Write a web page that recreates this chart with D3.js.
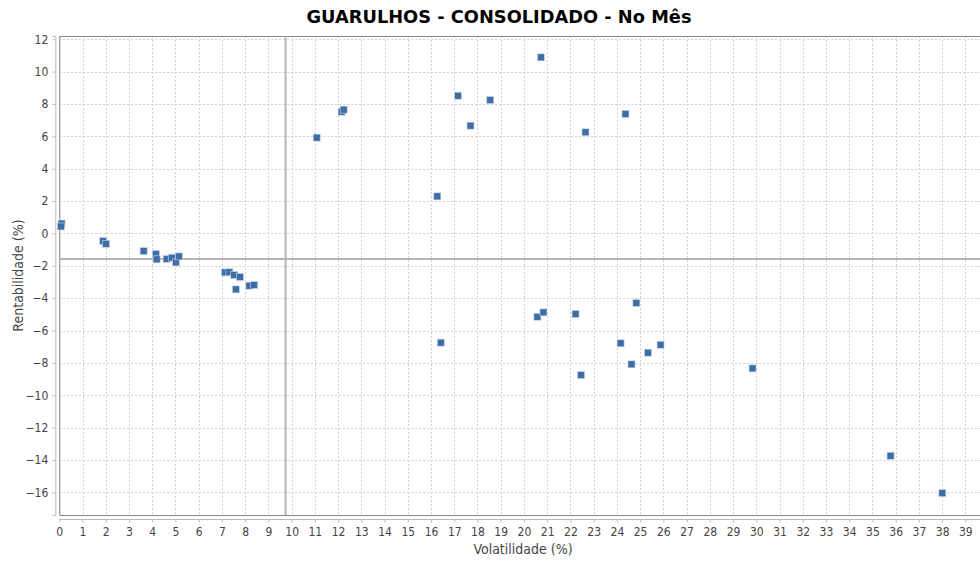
<!DOCTYPE html>
<html>
<head>
<meta charset="utf-8">
<script src="https://cdn.jsdelivr.net/npm/d3@7"></script>
<style>
  body { margin: 0; background: #fff; }
  svg { display: block; }
  text { font-family: "DejaVu Sans Condensed", "DejaVu Sans", sans-serif; }
</style>
</head>
<body>
<svg id="chart" width="980" height="563"></svg>
<script>
// volatilidade (%) / rentabilidade (%) de cada fundo
var volatilidade = [0.10, 0.07, 1.89, 2.01, 3.63, 4.16, 4.19, 4.62, 4.84, 5.02, 5.15,
    7.13, 7.32, 7.53, 7.78, 7.60, 8.18, 8.39,
    11.08, 12.15, 12.24, 17.16, 17.70, 18.55, 20.73, 22.65, 24.37, 16.27,
    16.42, 20.58, 20.84, 22.22, 22.46, 24.16, 24.84, 24.63, 25.34, 25.88,
    29.84, 35.78, 38.01];
var rentabilidade = [0.61, 0.43, -0.47, -0.64, -1.09, -1.27, -1.60, -1.58, -1.50, -1.79, -1.42,
    -2.41, -2.40, -2.57, -2.69, -3.46, -3.23, -3.19,
    5.92, 7.52, 7.65, 8.51, 6.66, 8.24, 10.88, 6.25, 7.38, 2.29,
    -6.75, -5.15, -4.88, -4.98, -8.75, -6.79, -4.30, -8.09, -7.37, -6.88,
    -8.34, -13.74, -16.05];

// linhas de referencia (media)
var mediaVol = 9.74;
var mediaRent = -1.58;

var xTicks = d3.range(0, 40, 1);
var yTicks = d3.range(-16, 13, 2);

var svg = d3.select("#chart");
var pLeft = 59.3, pRight = 980, pTop = 36, pBottom = 515;

var x = d3.scaleLinear().domain([0, 39.63]).range([pLeft, pRight]);
var y = d3.scaleLinear().domain([-17.4, 12.2]).range([pBottom, pTop]);

svg.append("text")
    .attr("x", 499).attr("y", 23)
    .attr("text-anchor", "middle")
    .style("font-family", "'DejaVu Sans', sans-serif")
    .style("font-weight", "bold")
    .style("font-size", "17.8px")
    .text("GUARULHOS - CONSOLIDADO - No Mês");

// grade
var grid = svg.append("g")
    .attr("stroke", "#d0d0d0")
    .attr("stroke-dasharray", "2,2");
grid.selectAll("line.v").data(xTicks).enter().append("line")
    .attr("x1", d => Math.round(x(d)) + 0.5).attr("x2", d => Math.round(x(d)) + 0.5)
    .attr("y1", pTop).attr("y2", pBottom);
grid.selectAll("line.h").data(yTicks).enter().append("line")
    .attr("y1", d => Math.round(y(d)) + 0.5).attr("y2", d => Math.round(y(d)) + 0.5)
    .attr("x1", pLeft).attr("x2", pRight);

// borda da area do grafico
svg.append("path")
    .attr("d", "M" + pRight + "," + (pTop + 0.5) + "H" + (pLeft + 0.5) + "V" + (pBottom + 0.5) + "H" + pRight)
    .attr("fill", "none")
    .attr("stroke", "#888");

// linhas das medias
svg.append("line")
    .attr("x1", x(mediaVol)).attr("x2", x(mediaVol))
    .attr("y1", pTop).attr("y2", pBottom)
    .attr("stroke", "#b4b4b4").attr("stroke-width", 2);
svg.append("line")
    .attr("x1", pLeft).attr("x2", pRight)
    .attr("y1", y(mediaRent)).attr("y2", y(mediaRent))
    .attr("stroke", "#b4b4b4").attr("stroke-width", 2);

// eixos
var xAxis = svg.append("g")
    .attr("transform", "translate(0," + (pBottom + 4.5) + ")")
    .call(d3.axisBottom(x).tickValues(xTicks).tickSize(3).tickPadding(5).tickFormat(d3.format("d")));
var yAxis = svg.append("g")
    .attr("transform", "translate(" + (pLeft - 4) + ",0)")
    .call(d3.axisLeft(y).tickValues(yTicks).tickSize(3).tickPadding(4).tickFormat(d3.format("d")));
[xAxis, yAxis].forEach(function(a) {
    a.select(".domain").attr("stroke", "#bbb");
    a.selectAll(".tick line").attr("stroke", "#bbb");
    a.selectAll(".tick text")
        .attr("fill", "#444")
        .style("font-size", "12px")
        .style("font-family", "'DejaVu Sans Condensed', sans-serif");
});
xAxis.select(".domain").attr("d", "M" + pLeft + ",0H" + pRight);

svg.append("text")
    .attr("x", 523).attr("y", 554)
    .attr("text-anchor", "middle")
    .attr("fill", "#444")
    .style("font-size", "14px")
    .text("Volatilidade (%)");
svg.append("text")
    .attr("transform", "translate(23," + ((pTop + pBottom) / 2) + ") rotate(-90)")
    .attr("text-anchor", "middle")
    .attr("fill", "#444")
    .style("font-size", "14px")
    .text("Rentabilidade (%)");

// pontos
var pts = volatilidade.map((v, i) => [v, rentabilidade[i]]);
svg.append("g").selectAll("rect").data(pts).enter().append("rect")
    .attr("x", d => x(d[0]) - 3.5)
    .attr("y", d => y(d[1]) - 3.5)
    .attr("width", 7).attr("height", 7)
    .attr("fill", "#3f6ea6")
    .attr("stroke", "#c9d6e6")
    .attr("stroke-width", 0.6);
</script>
</body>
</html>
